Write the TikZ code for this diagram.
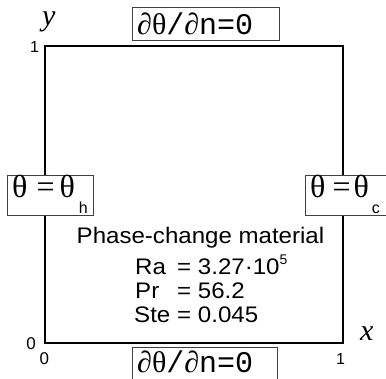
\documentclass[tikz,border=0pt]{standalone}
\usepackage{fontspec}
\setmainfont{Liberation Serif}
\newfontfamily\sansf[FakeStretch=1.07]{Liberation Sans}
\newfontfamily\axf{Liberation Sans}
\newfontfamily\monof{Liberation Mono}
\newcommand\dndn{{\fontsize{30}{30}\selectfont ∂θ{\monof/}∂{\monof n=0}}}
\begin{document}
\begin{tikzpicture}[x=1pt,y=-1pt,
  bc/.style={draw=black!75, line width=0.8pt, fill=white, inner sep=0},
  lab/.style={inner sep=0, anchor=base west},
  txt/.style={inner sep=0, anchor=base west, font=\fontsize{22.5}{22.5}\sansf}]
\useasboundingbox (0,0) rectangle (386,379);
% cavity
\node[draw, line width=1.6pt, minimum width=298pt, minimum height=297pt, inner sep=0] (sq) at (194,194.5) {};
% boundary condition boxes
\node[bc, minimum width=147pt, minimum height=33pt] (topbc) at (205.5,23.5) {};
\node[bc, minimum width=145pt, minimum height=40pt] (botbc) at (204.5,367) {};
\node[bc, minimum width=86pt, minimum height=40pt] (leftbc) at (50,195) {};
\node[bc, minimum width=90pt, minimum height=40pt] (rightbc) at (350,195) {};
% texts of boxes
\node[lab] (toptext) at (137,35) {\dndn};
\node[lab] (bottext) at (137,373) {\dndn};
\node[lab] (lefttext) at (12,198) {\fontsize{32}{32}\selectfont θ\hspace{9pt}=\hspace{5pt}θ\hspace{4pt}\raisebox{-16pt}{\fontsize{16}{16}\axf h}};
\node[lab] (righttext) at (310,198) {\fontsize{32}{32}\selectfont θ\hspace{7pt}=\hspace{3pt}θ\hspace{3pt}\raisebox{-16pt}{\fontsize{16}{16}\axf c}};
% material text
\node[inner sep=0, anchor=base, font=\fontsize{22.5}{22.5}\sansf] (pcm) at (200.5,244) {Phase-change material};
\node[txt] (ra) at (135,275) {Ra};
\node[txt] (raval) at (177,275) {= 3.27·10\raisebox{10pt}{\fontsize{14}{14}\axf 5}};
\node[txt] (pr) at (135,299) {Pr};
\node[txt] (prval) at (177,299) {= 56.2};
\node[txt] (ste) at (134,323) {Ste};
\node[txt] (steval) at (177,323) {= 0.045};
% axis labels
\node[lab, font=\fontsize{30}{30}\selectfont\itshape] (ylab) at (42,26) {y};
\node[lab, font=\fontsize{30}{30}\selectfont\itshape] (xlab) at (360,341) {x};
\node[lab, font=\fontsize{16}{16}\axf] (y1) at (30,53) {1};
\node[lab, font=\fontsize{17}{17}\axf] (y0) at (26.3,350) {0};
\node[lab, font=\fontsize{17}{17}\axf] (x0) at (39.3,365) {0};
\node[lab, font=\fontsize{16}{16}\axf] (x1) at (336,365) {1};
\end{tikzpicture}
\end{document}
